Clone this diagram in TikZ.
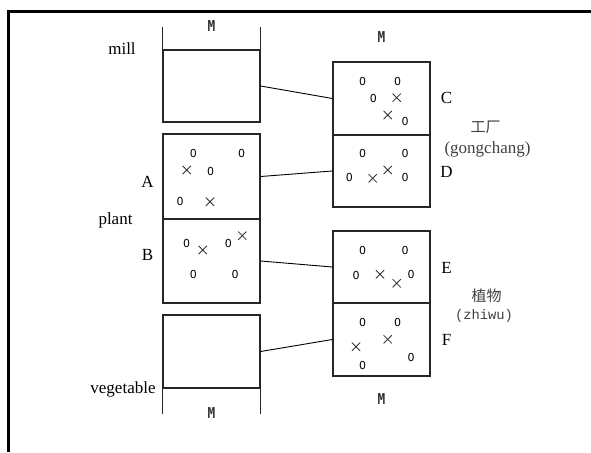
\documentclass[tikz,border=0pt]{standalone}
\usepackage{fontspec}
\setmainfont{Liberation Serif}
\newfontfamily\digitfont{DejaVu Sans}
\newfontfamily\mfont{DejaVu Sans Mono}
\newfontfamily\cjkfont{Noto Sans CJK SC}
\newfontfamily\pinyinmono{Liberation Mono}
\usetikzlibrary{shapes.misc}

\tikzset{
  cell/.style={draw=black!85, line width=1.3pt, rectangle, inner sep=0pt,
               minimum width=97pt},
  link/.style={draw=black, line width=0.9pt},
  side/.style={draw=black!85, line width=1.3pt},
  lbl/.style={font=\fontsize{17}{17}\selectfont, anchor=base, inner sep=0pt},
  mlbl/.style={font=\mfont\bfseries\fontsize{15}{15}\selectfont,
               text=black!80, inner sep=0pt},
  zero/.style={font=\digitfont\fontsize{11}{11}\selectfont, text=black,
               inner sep=0pt},
  xmark/.style={cross out, draw=black!80, line width=0.8pt, inner sep=0pt,
                minimum size=7.5pt},
  cjk/.style={font=\cjkfont\fontsize{15}{15}\selectfont, text=black!75,
              inner sep=0pt},
  pinyin/.style={text=black!75, inner sep=0pt},
}

\newcommand{\condM}{\scalebox{0.85}[1]{M}}

\begin{document}
\begin{tikzpicture}[x=1pt, y=-1pt]
  \useasboundingbox (0,0) rectangle (591,452);

  % outer frame: top and left edges only
  \draw[line width=2.2pt] (8.5,452) -- (8.5,11.5) -- (591,11.5);

  % left column
  \node[cell, minimum height=72pt] (mill) at (211.5,86) {};
  \node[cell, minimum height=85pt] (A) at (211.5,176.5) {};
  \node[cell, minimum height=84pt] (B) at (211.5,261) {};
  \node[cell, minimum height=73pt] (veg) at (211.5,351.5) {};

  % open sides above the mill cell and below the vegetable cell
  \draw[side] (mill.north west) -- ++(0,-22);
  \draw[side] (mill.north east) -- ++(0,-22);
  \draw[side] (veg.south west) -- ++(0,25);
  \draw[side] (veg.south east) -- ++(0,25);

  % right column
  \node[cell, minimum height=73pt] (C) at (381.5,98.5) {};
  \node[cell, minimum height=72pt] (D) at (381.5,171) {};
  \node[cell, minimum height=72pt] (E) at (381.5,267) {};
  \node[cell, minimum height=73pt] (F) at (381.5,339.5) {};

  % connectors
  \draw[link] (mill.east) -- (C.west);
  \draw[link] (A.east) -- (D.west);
  \draw[link] (B.east) -- (E.west);
  \draw[link] (veg.east) -- (F.west);

  % M marks
  \node[mlbl] (m1) at (211.5,26) {\condM};
  \node[mlbl] (m2) at (381.5,37) {\condM};
  \node[mlbl] (m3) at (381.5,399) {\condM};
  \node[mlbl] (m4) at (211.5,413) {\condM};

  % left labels
  \node[lbl] (tmill) at (122,55) {mill};
  \node[lbl] (tplant) at (115.5,224) {plant};
  \node[lbl] (tveg) at (123,393) {vegetable};
  \node[lbl] (tA) at (147.5,187) {A};
  \node[lbl] (tB) at (147.5,260) {B};

  % right labels
  \node[lbl] (tC) at (446.5,103) {C};
  \node[lbl] (tD) at (446.5,177) {D};
  \node[lbl] (tE) at (446.5,273) {E};
  \node[lbl] (tF) at (446.5,345) {F};

  \node[cjk] (gc) at (485.5,127) {工厂};
  \node[pinyin, font=\fontsize{17}{17}\selectfont, anchor=base] (gcp) at (487.5,153) {(gongchang)};
  \node[cjk] (zw) at (486.5,296) {植物};
  \node[pinyin, font=\pinyinmono\fontsize{13.8}{13.8}\selectfont] (zwp) at (484,316) {(zhiwu)};

  % zeros
  \foreach \p [count=\i] in {
    (193.3,153.5),(241.7,153.5),(210.7,171.7),(180,201.7),
    (186.7,243.3),(228.3,243.3),(193.3,274),(235,274),
    (362.7,81.7),(397.7,81.7),(373.3,98.3),(405,121.7),
    (362.7,153.3),(405,153.3),(349.3,177.3),(405,177.3),
    (362.7,250.7),(405,250.7),(356,275),(411,274.3),
    (362.7,322.7),(397.7,322.7),(411,357.3),(362.7,365)}
    \node[zero] (z\i) at \p {0};

  % crosses
  \foreach \p [count=\i] in {
    (186.7,170),(210,201.7),
    (202.7,250),(242.3,235.7),
    (396.7,97.7),(387.7,115),
    (372.7,178.3),(387.7,170),
    (380,274.3),(396.7,283.3),
    (356,346.7),(387.7,339.3)}
    \node[xmark] (x\i) at \p {};
\end{tikzpicture}
\end{document}
